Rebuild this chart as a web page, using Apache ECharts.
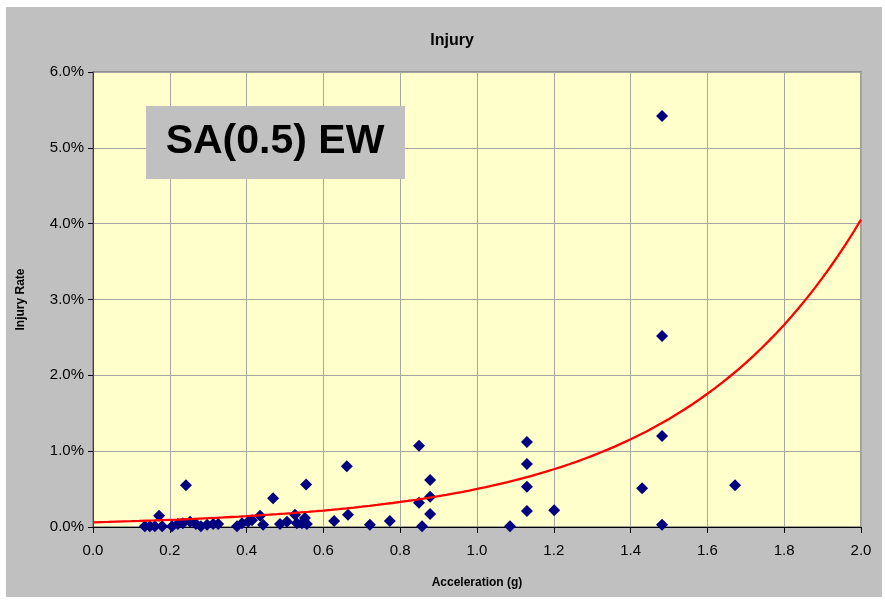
<!DOCTYPE html>
<html>
<head>
<meta charset="utf-8">
<script src="https://cdn.jsdelivr.net/npm/echarts@6/dist/echarts.min.js"></script>
<style>
  html, body { margin: 0; padding: 0; background: #ffffff; }
  #chart { width: 885px; height: 602px; }
</style>
</head>
<body>
<div id="chart"></div>
<script>
// Observed injury rates (fraction) against peak spectral acceleration (g)
const accel = [
  0.135, 0.148, 0.161, 0.172, 0.180, 0.206, 0.221, 0.234, 0.242, 0.253,
  0.268, 0.281, 0.297, 0.313, 0.326, 0.375, 0.388, 0.404, 0.414, 0.435,
  0.443, 0.469, 0.487, 0.505, 0.526, 0.531, 0.544, 0.552, 0.555, 0.557,
  0.628, 0.661, 0.664, 0.721, 0.773, 0.849, 0.849, 0.857, 0.878, 0.878,
  0.878, 1.086, 1.130, 1.130, 1.130, 1.130, 1.201, 1.430, 1.482, 1.482,
  1.482, 1.482, 1.672
];
const injuryRate = [
  0.0001, 0.0001, 0.0001, 0.0015, 0.0001, 0.0001, 0.0004, 0.0005, 0.0055, 0.0007,
  0.0004, 0.0001, 0.0003, 0.0004, 0.0004, 0.0001, 0.0005, 0.0007, 0.0009, 0.0015,
  0.0003, 0.0038, 0.0004, 0.0007, 0.0016, 0.0005, 0.0005, 0.0012, 0.0056, 0.0004,
  0.0008, 0.0080, 0.0016, 0.0003, 0.0008, 0.0107, 0.0032, 0.0001, 0.0062, 0.0040,
  0.0017, 0.0001, 0.0112, 0.0083, 0.0053, 0.0021, 0.0022, 0.0051, 0.0542, 0.0252,
  0.0120, 0.0003, 0.0055
];

// Exponential trend line y = a * exp(b * x)
const trendA = 0.00062;
const trendB = 2.09;
const trendX = [];
for (let i = 0; i <= 100; i++) trendX.push(i * 0.02);

const xTicks = { min: 0, max: 2.0, interval: 0.2 };
const yTicks = { min: 0, max: 0.06, interval: 0.01 };

const points = accel.map((x, i) => [x, injuryRate[i]]);
const trend = trendX.map(x => [x, trendA * Math.exp(trendB * x)]);

const FONT = 'Liberation Sans, Arial, sans-serif';

const chart = echarts.init(document.getElementById('chart'), null, { renderer: 'canvas' });
chart.setOption({
  backgroundColor: '#ffffff',
  animation: false,
  title: {
    text: 'Injury',
    left: 447,
    top: 28,
    textAlign: 'center',
    textStyle: { fontFamily: FONT, fontSize: 16, fontWeight: 'bold', color: '#000' }
  },
  graphic: [
    {
      type: 'rect', z: -10, silent: true,
      shape: { x: 6, y: 7, width: 876, height: 590 },
      style: { fill: '#c0c0c0' }
    },
    {
      type: 'rect', z: 100, silent: true,
      shape: { x: 146, y: 106, width: 259, height: 73 },
      style: { fill: '#c0c0c0' }
    },
    {
      type: 'text', z: 101, silent: true,
      x: 275, y: 142,
      style: {
        text: 'SA(0.5) EW',
        font: 'bold 41px ' + FONT,
        fill: '#000',
        align: 'center', verticalAlign: 'middle'
      }
    }
  ],
  grid: {
    left: 93, top: 72, right: 24, bottom: 75,
    show: true,
    backgroundColor: '#ffffcc',
    borderColor: '#808080',
    borderWidth: 1.5
  },
  xAxis: {
    type: 'value',
    min: xTicks.min, max: xTicks.max, interval: xTicks.interval,
    name: 'Acceleration (g)',
    nameLocation: 'middle',
    nameGap: 50,
    nameTextStyle: { fontFamily: FONT, fontSize: 12, fontWeight: 'bold', color: '#000' },
    axisLine: { show: true, lineStyle: { color: '#000', width: 1 } },
    axisTick: { show: true, inside: false, length: 6, lineStyle: { color: '#000' } },
    axisLabel: {
      formatter: v => v.toFixed(1),
      fontFamily: FONT, fontSize: 15, color: '#000', margin: 16
    },
    splitLine: { show: true, lineStyle: { color: '#a6a6a6', width: 1 } }
  },
  yAxis: {
    type: 'value',
    min: yTicks.min, max: yTicks.max, interval: yTicks.interval,
    name: 'Injury Rate',
    nameLocation: 'middle',
    nameGap: 66,
    nameTextStyle: { fontFamily: FONT, fontSize: 12, fontWeight: 'bold', color: '#000' },
    axisLine: { show: true, lineStyle: { color: '#404040', width: 1 } },
    axisTick: { show: true, inside: false, length: 5, lineStyle: { color: '#000' } },
    axisLabel: {
      formatter: v => (v * 100).toFixed(1) + '%',
      fontFamily: FONT, fontSize: 15, color: '#000', margin: 9
    },
    splitLine: { show: true, lineStyle: { color: '#a6a6a6', width: 1 } }
  },
  series: [
    {
      name: 'Injury rate',
      type: 'scatter',
      data: points,
      symbol: 'diamond',
      symbolSize: 12,
      itemStyle: { color: '#000080', opacity: 1 },
      z: 3
    },
    {
      name: 'Trend',
      type: 'line',
      data: trend,
      showSymbol: false,
      smooth: false,
      lineStyle: { color: '#ff0000', width: 2.3 },
      z: 4
    }
  ]
});
</script>
</body>
</html>
